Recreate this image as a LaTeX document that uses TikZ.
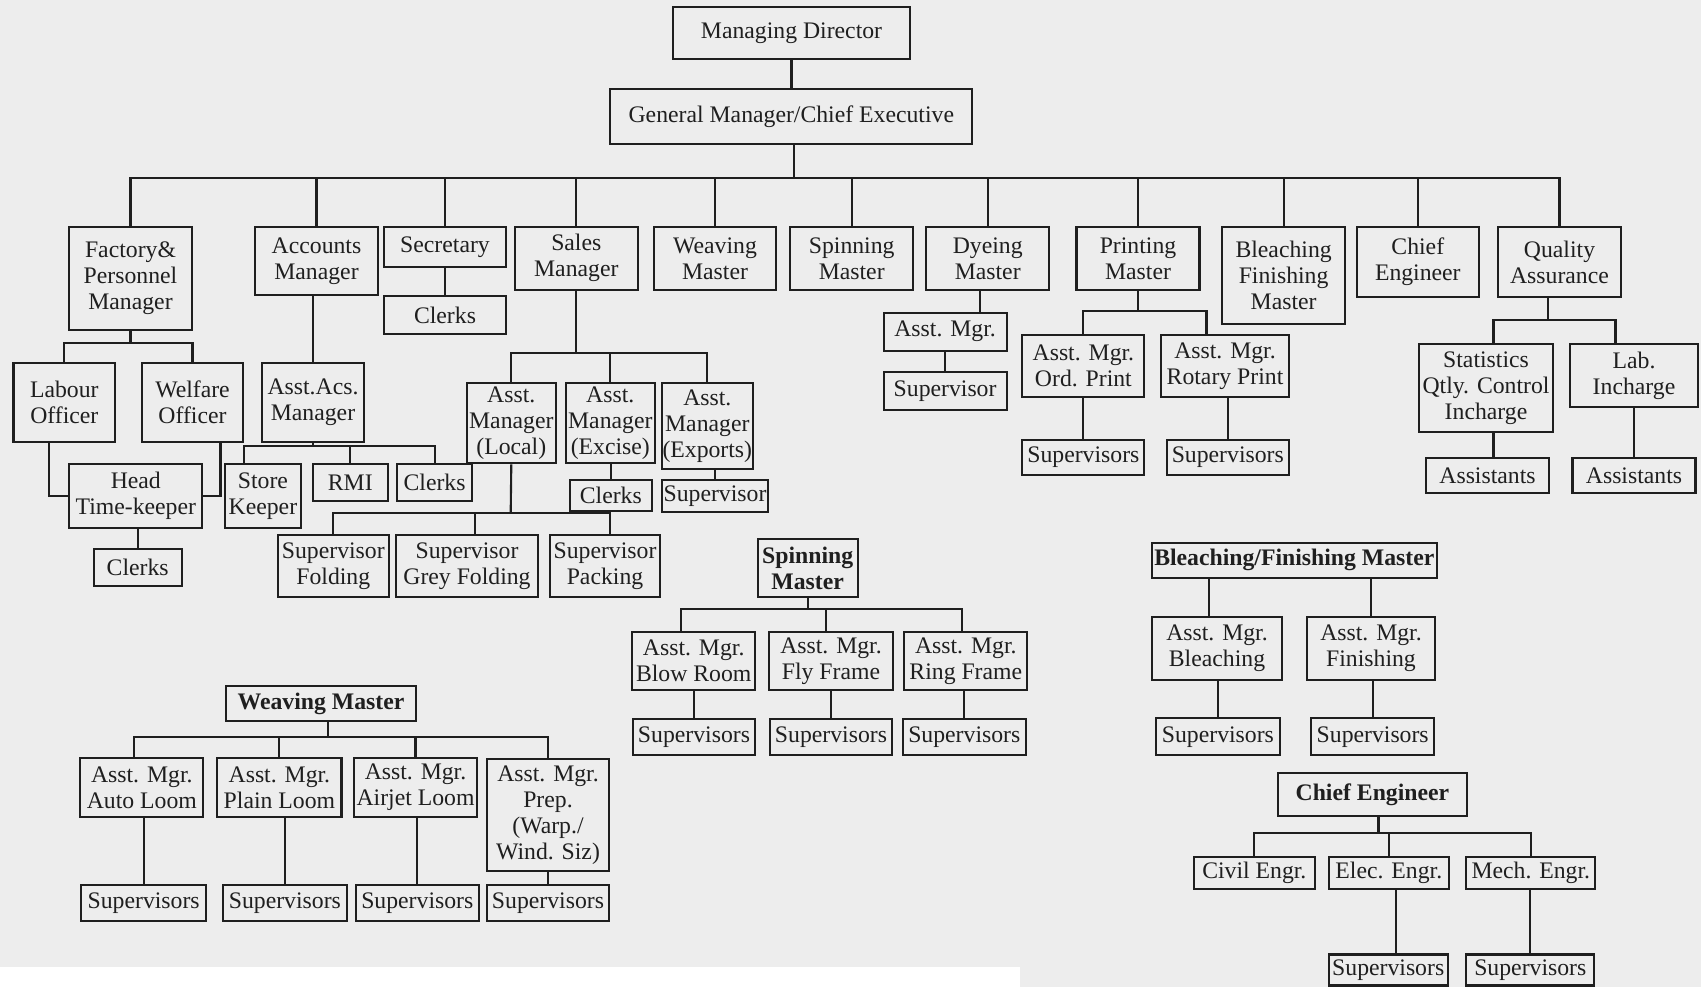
\documentclass[tikz,border=0pt]{standalone}
\usepackage{fontspec}
\setmainfont{Liberation Serif}
\usepackage{tikz}
\definecolor{paper}{HTML}{EDEDED}
\definecolor{ink}{HTML}{1F1F1F}
\newcommand{\orgfont}{\fontsize{13.5}{14.8}\selectfont}
\tikzset{orgbox/.style 2 args={draw=ink,line width=1.2pt,text=ink,inner sep=0.5pt,align=center,
                               font=\orgfont,minimum width=#1*0.2mm,minimum height=#2*0.2mm},
         boldbox/.style 2 args={orgbox={#1}{#2},font=\orgfont\bfseries},
         link/.style={draw=ink,line width=1.2pt}}
\usetikzlibrary{calc}

\begin{document}
\begin{tikzpicture}[x=0.2mm,y=-0.2mm]
\useasboundingbox (0,0) rectangle (1701,987);
\fill[paper] (0,0) rectangle (1701,987);
\fill[white] (0,967) rectangle (1020,987);

\node[orgbox={237}{52}] (md) at (791.5,33.3) {Managing Director};
\node[orgbox={362}{55}] (gm) at (791.3,116.8) {General Manager/Chief Executive};

\node[orgbox={123}{102.6}] (fpm) at (130.5,278.3) {Factory\&\\Personnel\\Manager};
\node[orgbox={123}{68.3}] (acm) at (316.5,261.2) {Accounts\\Manager};
\node[orgbox={122}{40}] (sec) at (445,247) {Secretary};
\node[orgbox={122.5}{62.6}] (sam) at (576.3,258.3) {Sales\\Manager};
\node[orgbox={122}{62.6}] (wvm) at (715,258.3) {Weaving\\Master};
\node[orgbox={123}{62.6}] (spm) at (851.7,258.3) {Spinning\\Master};
\node[orgbox={122.6}{62.6}] (dym) at (987.7,258.3) {Dyeing\\Master};
\node[orgbox={123}{63}] (prm) at (1138,258.5) {Printing\\Master};
\node[orgbox={122.4}{97.3}] (bfm) at (1283.6,275.7) {Bleaching\\Finishing\\Master};
\node[orgbox={122}{70}] (che) at (1417.8,262) {Chief\\Engineer};
\node[orgbox={122.5}{70}] (qa) at (1559.5,262) {Quality\\Assurance};

\coordinate (topbus) at (794,177.7);
\draw[link] (md.south) -- (md.south |- gm.north);
\draw[link] (topbus |- gm.south) -- (topbus);
\foreach \n in {fpm,acm,sec,sam,wvm,spm,dym,prm,bfm,che,qa}
  \draw[link] (\n.north) |- (topbus);

\node[orgbox={122}{38.6}] (secclk) at (445,315) {Clerks};
\draw[link] (sec.south) -- (secclk.north);

\node[orgbox={101.5}{78.4}] (lbo) at (64.3,402.5) {Labour\\Officer};
\node[orgbox={101}{78.4}] (wfo) at (192.5,402.5) {Welfare\\Officer};
\node[orgbox={133}{63.7}] (head) at (135.8,495.8) {Head\\Time-keeper};
\node[orgbox={88}{37}] (hclk) at (137.7,567.5) {Clerks};
\coordinate (fpmbus) at (130.5,343.3);
\draw[link] (fpm.south) -- (fpmbus);
\draw[link] (lbo.north) |- (fpmbus);
\draw[link] (wfo.north) |- (fpmbus);
\draw[link] ([xshift=-3mm]lbo.south) |- (head.west);
\draw[link] ([xshift=5.6mm]wfo.south) |- (head.east);
\draw[link] (hclk.north) -- (hclk.north |- head.south);

\node[orgbox={101.4}{78.4}] (aam) at (313,402.5) {Asst.Acs.\\Manager};
\node[orgbox={75.8}{63.7}] (stk) at (262.9,495.8) {Store\\Keeper};
\node[orgbox={75.3}{37}] (rmi) at (350.3,482.5) {RMI};
\node[orgbox={74.7}{37}] (aclk) at (434.6,482.5) {Clerks};
\coordinate (aambus) at (313,445.7);
\draw[link] (aam.north) -- (aam.north |- acm.south);
\draw[link] (aam.south) -- (aambus);
\draw[link] ([xshift=-3.7mm]stk.north) |- (aambus);
\draw[link] (rmi.north) |- (aambus);
\draw[link] (aclk.north) |- (aambus);

\node[orgbox={88.6}{80}] (aml) at (511.3,423.3) {Asst.\\Manager\\(Local)};
\node[orgbox={88.8}{80}] (ame) at (610.3,423.3) {Asst.\\Manager\\(Excise)};
\node[orgbox={90}{86}] (amx) at (707.3,426.3) {Asst.\\Manager\\(Exports)};
\node[orgbox={81.7}{31}] (sclk) at (610.8,495.5) {Clerks};
\node[orgbox={106.6}{31.7}] (sxsup) at (715,495.8) {Supervisor};
\node[orgbox={110.6}{61.7}] (sfold) at (333.3,565.8) {Supervisor\\Folding};
\node[orgbox={142}{61.7}] (sgrey) at (467,565.8) {Supervisor\\Grey Folding};
\node[orgbox={110}{61.7}] (spack) at (605,565.8) {Supervisor\\Packing};
\coordinate (sambus) at (576.3,352.7);
\coordinate (amlbus) at (510.7,512.7);
\draw[link] (sam.south) -- (sambus);
\foreach \n in {aml,ame,amx}
  \draw[link] (\n.north) |- (sambus);
\draw[link] (sclk.north) -- (sclk.north |- ame.south);
\draw[link] (sxsup.north) -- (sxsup.north |- amx.south);
\draw[link] (aml.south) -- (amlbus);
\draw[link] (sfold.north) |- (amlbus);
\draw[link] ([xshift=1.6mm]sgrey.north) |- (amlbus);
\draw[link] ([xshift=1mm]spack.north) |- (amlbus);

\node[orgbox={123}{38}] (dyam) at (945.1,331.7) {Asst. Mgr.};
\node[orgbox={123}{37.7}] (dysup) at (945.1,391.2) {Supervisor};
\draw[link] ([xshift=7mm]dyam.north) -- ([xshift=7mm]dyam.north |- dym.south);
\draw[link] (dysup.north) -- (dysup.north |- dyam.south);

\node[orgbox={122}{61.7}] (ord) at (1083.4,365.9) {Asst. Mgr.\\Ord. Print};
\node[orgbox={128}{61.7}] (rot) at (1225,365.9) {Asst. Mgr.\\Rotary Print};
\node[orgbox={122}{35}] (ordsup) at (1083.4,457.5) {Supervisors};
\node[orgbox={122.5}{35}] (rotsup) at (1227.8,457.5) {Supervisors};
\coordinate (prmbus) at (1138,310.7);
\draw[link] (prm.south) -- (prmbus);
\draw[link] (ord.north) |- (prmbus);
\draw[link] ([xshift=-3.7mm]rot.north) |- (prmbus);
\draw[link] (ordsup.north) -- (ordsup.north |- ord.south);
\draw[link] (rotsup.north) -- (rotsup.north |- rot.south);

\node[orgbox={134}{87.4}] (stat) at (1486,388) {Statistics\\Qtly. Control\\Incharge};
\node[orgbox={128.5}{62.4}] (lab) at (1634,375.5) {Lab.\\Incharge};
\node[orgbox={123}{35}] (stass) at (1487.5,475.8) {Assistants};
\node[orgbox={123}{35}] (labass) at (1634,475.8) {Assistants};
\coordinate (qabus) at (1548,320);
\draw[link] (qabus |- qa.south) -- (qabus);
\draw[link] ([xshift=1.5mm]stat.north) |- (qabus);
\draw[link] ([xshift=-3.7mm]lab.north) |- (qabus);
\draw[link] ([xshift=1.2mm]stass.north) -- ([xshift=1.2mm]stass.north |- stat.south);
\draw[link] (labass.north) -- (labass.north |- lab.south);

\node[boldbox={100}{58}] (spm2) at (807.7,568.3) {Spinning\\Master};
\node[orgbox={122.7}{58.3}] (blow) at (693.7,660.9) {Asst. Mgr.\\Blow Room};
\node[orgbox={123.4}{58.3}] (fly) at (831,660.9) {Asst. Mgr.\\Fly Frame};
\node[orgbox={123}{58.3}] (ring) at (965.8,660.9) {Asst. Mgr.\\Ring Frame};
\node[orgbox={122}{35.7}] (blowsup) at (694,737.2) {Supervisors};
\node[orgbox={122.6}{35.7}] (flysup) at (831,737.2) {Supervisors};
\node[orgbox={123.4}{35.7}] (ringsup) at (964.3,737.2) {Supervisors};
\coordinate (spbus) at (807.7,609.3);
\draw[link] (spm2.south) -- (spbus);
\draw[link] ([xshift=-2.5mm]blow.north) |- (spbus);
\draw[link] ([xshift=-1mm]fly.north) |- (spbus);
\draw[link] ([xshift=-0.8mm]ring.north) |- (spbus);
\foreach \n in {blow,fly,ring}
  \draw[link] (\n sup.north) -- (\n sup.north |- \n.south);

\node[boldbox={190}{34.7}] (wvm2) at (321,703.4) {Weaving Master};
\node[orgbox={123}{58.4}] (auto) at (141.8,787.5) {Asst. Mgr.\\Auto Loom};
\node[orgbox={124.2}{58.4}] (plain) at (279.4,787.5) {Asst. Mgr.\\Plain Loom};
\node[orgbox={123}{58.4}] (airjet) at (415.5,787.5) {Asst. Mgr.\\Airjet Loom};
\node[orgbox={122.5}{111.4}] (prep) at (548,815) {Asst. Mgr.\\Prep.\\(Warp./\\Wind. Siz)};
\node[orgbox={124.7}{35.7}] (autosup) at (143.7,902.9) {Supervisors};
\node[orgbox={124.2}{35.7}] (plainsup) at (284.9,902.9) {Supervisors};
\node[orgbox={122.6}{35.7}] (airjetsup) at (417.3,902.9) {Supervisors};
\node[orgbox={122.5}{35.7}] (prepsup) at (548,902.9) {Supervisors};
\coordinate (wvbus) at (328,736.7);
\draw[link] (wvbus |- wvm2.south) -- (wvbus);
\draw[link] ([xshift=-1.6mm]auto.north) |- (wvbus);
\foreach \n in {plain,airjet,prep}
  \draw[link] (\n.north) |- (wvbus);
\foreach \n in {auto,plain,airjet,prep}
  \draw[link] (\n sup.north) -- (\n sup.north |- \n.south);

\node[boldbox={284.5}{35}] (bfm2) at (1294.3,560.2) {Bleaching/Finishing Master};
\node[orgbox={130}{63.3}] (bleach) at (1217,648.3) {Asst. Mgr.\\Bleaching};
\node[orgbox={128}{63.3}] (finish) at (1371,648.3) {Asst. Mgr.\\Finishing};
\node[orgbox={123.8}{36.7}] (bleachsup) at (1217.9,736.7) {Supervisors};
\node[orgbox={123.3}{36.7}] (finishsup) at (1372.7,736.7) {Supervisors};
\draw[link] ([xshift=-1.6mm]bleach.north) -- ([xshift=-1.6mm]bleach.north |- bfm2.south);
\draw[link] (finish.north) -- (finish.north |- bfm2.south);
\foreach \n in {bleach,finish}
  \draw[link] (\n sup.north) -- (\n sup.north |- \n.south);

\node[boldbox={188.8}{42.7}] (che2) at (1372.4,794.7) {Chief Engineer};
\node[orgbox={120.5}{32.6}] (civil) at (1254.3,873) {Civil Engr.};
\node[orgbox={120.4}{32.6}] (elec) at (1388.8,873) {Elec. Engr.};
\node[orgbox={129}{32.6}] (mech) at (1530.8,873) {Mech. Engr.};
\node[orgbox={119.2}{31}] (elecsup) at (1388.2,970) {Supervisors};
\node[orgbox={128}{31}] (mechsup) at (1530.3,970) {Supervisors};
\coordinate (chebus) at (1378.5,833.3);
\draw[link] (chebus |- che2.south) -- (chebus);
\foreach \n in {civil,elec,mech}
  \draw[link] (\n.north) |- (chebus);
\draw[link] ([xshift=1.6mm]elecsup.north) -- ([xshift=1.6mm]elecsup.north |- elec.south);
\draw[link] (mechsup.north) -- (mechsup.north |- mech.south);
\end{tikzpicture}
\end{document}
